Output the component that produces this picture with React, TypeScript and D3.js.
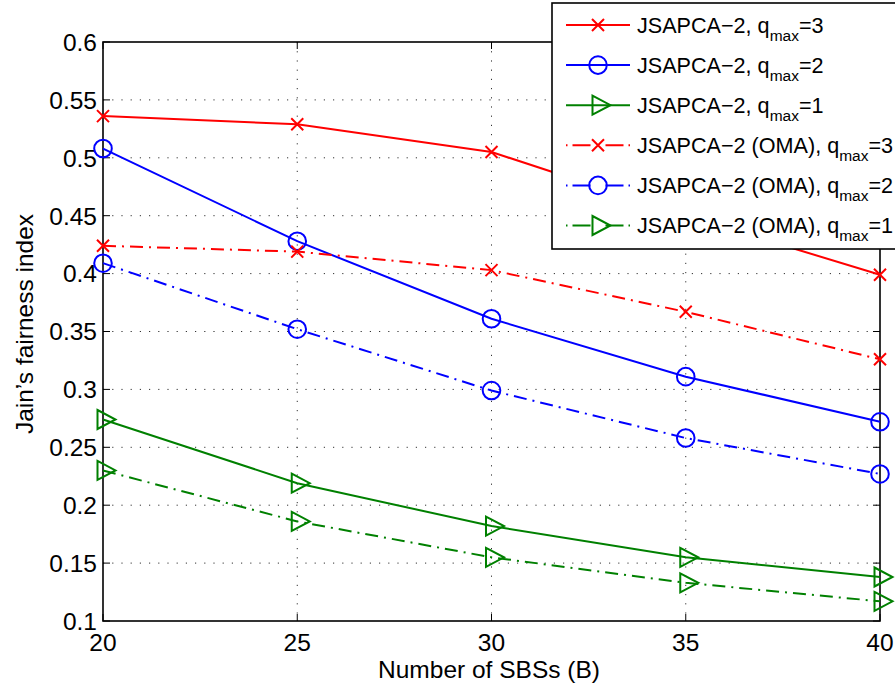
import React from "react";
import * as d3 from "d3";

const xValues = [20, 25, 30, 35, 40];
const xTicks = [20, 25, 30, 35, 40];
const yTicks = [0.1, 0.15, 0.2, 0.25, 0.3, 0.35, 0.4, 0.45, 0.5, 0.55, 0.6];

const noma3 = [0.536, 0.529, 0.505, 0.45, 0.399];
const noma2 = [0.508, 0.428, 0.361, 0.311, 0.272];
const noma1 = [0.274, 0.219, 0.182, 0.155, 0.138];
const oma3 = [0.424, 0.419, 0.403, 0.367, 0.326];
const oma2 = [0.409, 0.352, 0.299, 0.258, 0.227];
const oma1 = [0.230, 0.186, 0.155, 0.133, 0.117];

const seriesNames = [
  ["JSAPCA−2, q", "max", "=3"],
  ["JSAPCA−2, q", "max", "=2"],
  ["JSAPCA−2, q", "max", "=1"],
  ["JSAPCA−2 (OMA), q", "max", "=3"],
  ["JSAPCA−2 (OMA), q", "max", "=2"],
  ["JSAPCA−2 (OMA), q", "max", "=1"],
];

type Marker = "x" | "o" | "tri";
const series: { values: number[]; color: string; dashed: boolean; marker: Marker }[] = [
  { values: noma3, color: "#ff0000", dashed: false, marker: "x" },
  { values: noma2, color: "#0000ff", dashed: false, marker: "o" },
  { values: noma1, color: "#008000", dashed: false, marker: "tri" },
  { values: oma3, color: "#ff0000", dashed: true, marker: "x" },
  { values: oma2, color: "#0000ff", dashed: true, marker: "o" },
  { values: oma1, color: "#008000", dashed: true, marker: "tri" },
];

const W = 895;
const H = 690;
const L = 103, R = 880, T = 42, B = 621;
const FONT = "'Liberation Sans', Arial, Helvetica, sans-serif";

function MarkerShape({ kind, cx, cy, color }: { kind: Marker; cx: number; cy: number; color: string }) {
  if (kind === "x") {
    const s = 6;
    return (
      <path
        d={`M${cx - s},${cy - s}L${cx + s},${cy + s}M${cx - s},${cy + s}L${cx + s},${cy - s}`}
        stroke={color}
        strokeWidth={2}
        fill="none"
      />
    );
  }
  if (kind === "o") {
    return <circle cx={cx} cy={cy} r={8.8} stroke={color} strokeWidth={2} fill="none" />;
  }
  return (
    <path
      d={`M${cx - 5.5},${cy - 9.5}L${cx + 12.5},${cy}L${cx - 5.5},${cy + 9.5}Z`}
      stroke={color}
      strokeWidth={2}
      fill="none"
      strokeLinejoin="miter"
    />
  );
}

export default function App() {
  const x = d3.scaleLinear().domain([20, 40]).range([L, R]);
  const y = d3.scaleLinear().domain([0.1, 0.6]).range([B, T]);
  const line = d3
    .line<number>()
    .x((_, i) => x(xValues[i]))
    .y((d) => y(d));

  const fmt = (v: number) => d3.format("")(+v.toFixed(2));

  const legX = 552, legY = 3, legB = 249;
  const rowY0 = 25, rowStep = 40.1;

  return (
    <svg
      width={W}
      height={H}
      style={{ position: "absolute", left: 0, top: 0, background: "#fff" }}
      fontFamily={FONT}
    >
      <rect x={0} y={0} width={W} height={H} fill="#fff" />
      {/* grid */}
      {yTicks.slice(1, -1).map((t) => (
        <line key={"gy" + t} x1={L} x2={R} y1={y(t)} y2={y(t)} stroke="#333" strokeWidth={1} strokeDasharray="1.2,8" />
      ))}
      {xTicks.slice(1, -1).map((t) => (
        <line key={"gx" + t} y1={T} y2={B} x1={x(t)} x2={x(t)} stroke="#333" strokeWidth={1} strokeDasharray="1.2,8" />
      ))}
      {/* ticks */}
      {yTicks.map((t) => (
        <g key={"ty" + t}>
          <line x1={L} x2={L + 7} y1={y(t)} y2={y(t)} stroke="#000" strokeWidth={1} />
          <line x1={R - 7} x2={R} y1={y(t)} y2={y(t)} stroke="#000" strokeWidth={1} />
          <text x={L - 6} y={y(t)} dy="0.36em" textAnchor="end" fontSize={24.5}>
            {fmt(t)}
          </text>
        </g>
      ))}
      {xTicks.map((t) => (
        <g key={"tx" + t}>
          <line x1={x(t)} x2={x(t)} y1={B} y2={B - 7} stroke="#000" strokeWidth={1} />
          <line x1={x(t)} x2={x(t)} y1={T} y2={T + 7} stroke="#000" strokeWidth={1} />
          <text x={x(t)} y={651} textAnchor="middle" fontSize={24.5}>
            {t}
          </text>
        </g>
      ))}
      {/* axes box */}
      <rect x={L} y={T} width={R - L} height={B - T} fill="none" stroke="#000" strokeWidth={1.6} />
      {/* series */}
      {series.map((s, i) => (
        <g key={"s" + i}>
          <path
            d={line(s.values) || ""}
            fill="none"
            stroke={s.color}
            strokeWidth={2}
            strokeDasharray={s.dashed ? "13,6,2,6" : undefined}
          />
          {s.values.map((v, j) => (
            <MarkerShape key={j} kind={s.marker} cx={x(xValues[j])} cy={y(v)} color={s.color} />
          ))}
        </g>
      ))}
      {/* labels */}
      <text x={489} y={678} textAnchor="middle" fontSize={24.5}>
        Number of SBSs (B)
      </text>
      <text transform={`translate(33,324) rotate(-90)`} textAnchor="middle" fontSize={24.5}>
        Jain’s fairness index
      </text>
      {/* legend */}
      <rect x={legX} y={legY} width={W + 10 - legX} height={legB - legY} fill="#fff" stroke="#000" strokeWidth={1.6} />
      {series.map((s, i) => {
        const cy = rowY0 + i * rowStep;
        return (
          <g key={"l" + i}>
            <line
              x1={566}
              x2={630}
              y1={cy}
              y2={cy}
              stroke={s.color}
              strokeWidth={2}
              strokeDasharray={s.dashed ? "1.5,5,18,15,18,5,1.5" : undefined}
            />
            <MarkerShape kind={s.marker} cx={598} cy={cy} color={s.color} />
            <text x={637} y={cy + 7.5} fontSize={21.6}>
              {seriesNames[i][0]}
              <tspan fontSize={15.5} dy={8}>
                {seriesNames[i][1]}
              </tspan>
              <tspan dy={-8}>{seriesNames[i][2]}</tspan>
            </text>
          </g>
        );
      })}
    </svg>
  );
}
